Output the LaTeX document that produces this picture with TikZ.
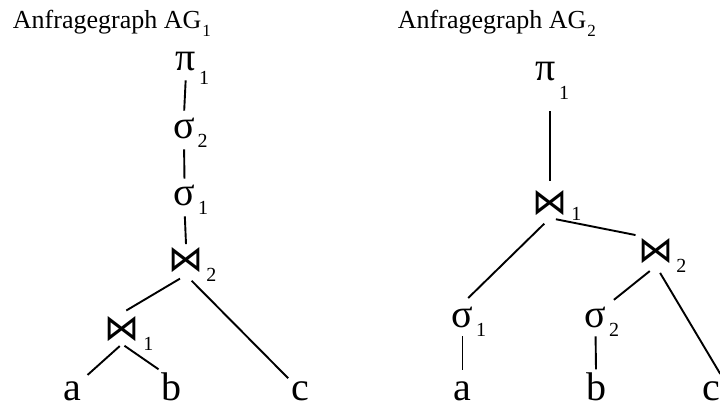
\documentclass[tikz,border=0pt]{standalone}
\usepackage{fontspec}
\setmainfont{Liberation Serif}
\newfontfamily\dejavu{DejaVu Sans}
\newcommand{\joinsym}{\resizebox{35pt}{24pt}{\dejavu ⋈}}
\begin{document}
\begin{tikzpicture}[x=1pt,y=-1pt,line width=1.9pt,
  op/.style={inner sep=2pt,anchor=base,font=\fontsize{40}{40}\selectfont},
  idx/.style={inner sep=0pt,font=\fontsize{20}{20}\selectfont,xshift=-1pt,yshift=8pt},
  title/.style={inner sep=0pt,anchor=base west,font=\fontsize{26}{30}\selectfont}]
        \useasboundingbox (0,0) rectangle (720,407);
        \node[title] (ltitle) at (12,28) {Anfragegraph AG\kern1pt\raisebox{-8pt}{\fontsize{17}{17}\selectfont 1}};
        \node[title] (rtitle) at (397,28) {Anfragegraph AG\kern1pt\raisebox{-8pt}{\fontsize{17}{17}\selectfont 2}};
        \node[op,label={[idx,yshift=-5pt]south east:1}] (lpi) at (186,70) {π};
        \node[op,label={[idx]south east:2}] (lsig2) at (184,138) {σ};
        \node[op,label={[idx]south east:1}] (lsig1) at (184.5,205) {σ};
        \node[op,label={[idx,xshift=0pt]south east:2}] (ljoin2) at (186,271) {\joinsym};
        \node[op,label={[idx,xshift=1pt]south east:1}] (ljoin1) at (122,340) {\joinsym};
        \node[op] (la) at (72,400) {a};
        \node[op] (lb) at (171.5,400) {b};
        \node[op] (lc) at (300,400) {c};
        \node[op,label={[idx,yshift=-10pt]south east:1}] (rpi) at (546,80) {π};
        \node[op,label={[idx,xshift=1pt,yshift=4pt]south east:1}] (rjoin1) at (550,214) {\joinsym};
        \node[op,label={[idx,xshift=0pt]south east:2}] (rjoin2) at (656,262) {\joinsym};
        \node[op,label={[idx]south east:1}] (rsig1) at (462.5,327) {σ};
        \node[op,label={[idx]south east:2}] (rsig2) at (595.5,327) {σ};
        \node[op] (ra) at (462.5,400) {a};
        \node[op] (rb) at (596,400) {b};
        \node[op] (rc) at (711,400) {c};
        \draw[shorten <=7pt,shorten >=4pt] (lpi.south) -- (lsig2.north);
        \draw[shorten <=8pt,shorten >=3pt] (lsig2.south) -- (lsig1.north);
        \draw[shorten <=8pt] (lsig1.south) -- (ljoin2.north);
        \draw[shorten <=7pt,shorten >=5pt] (ljoin2.south) -- (ljoin1.north);
        \draw[shorten <=8pt] (ljoin2.south) -- (lc.north west);
        \draw[shorten <=3pt,shorten >=5pt] (ljoin1.south) -- (la.north east);
        \draw[shorten <=3pt] (ljoin1.south) -- (lb.north west);
        \draw[shorten <=28pt,shorten >=6pt] (rpi.south -| rjoin1.north) -- (rjoin1.north);
        \draw[shorten <=8pt,shorten >=8pt] (rjoin1.south) -- (rsig1.north);
        \draw[shorten <=6pt] (rjoin1.south) -- (rjoin2.north west);
        \draw[shorten <=8pt,shorten >=6pt] (rjoin2.south) -- (rsig2.north east);
        \draw[shorten <=8pt,shorten >=5pt] (rjoin2.south) -- (rc.north east);
        \draw[shorten <=6pt,shorten >=8pt] (rsig1.south) -- (ra.north);
        \draw[shorten <=6pt] (rsig2.south) -- (rb.north);
\end{tikzpicture}
\end{document}
